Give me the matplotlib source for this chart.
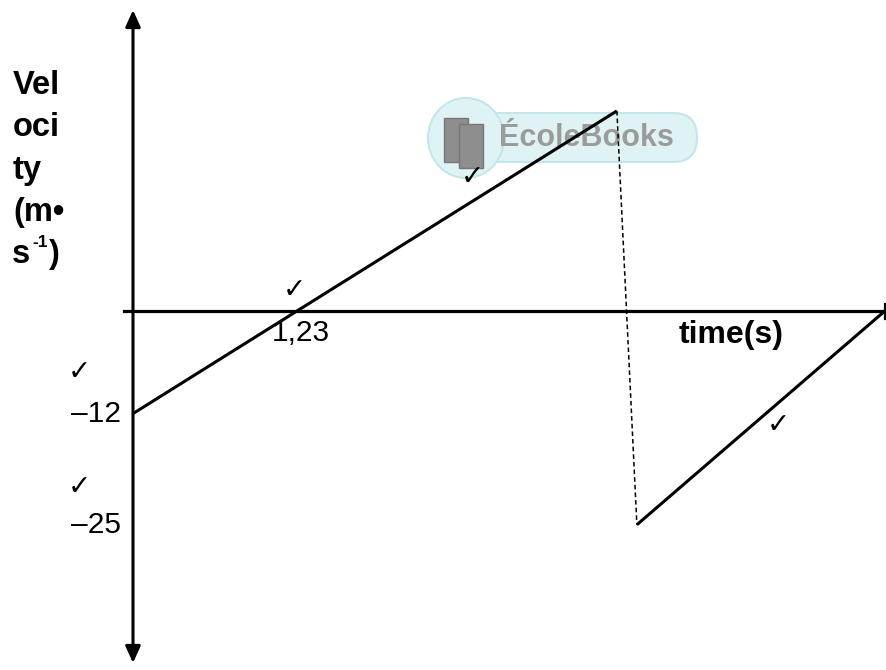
import matplotlib
matplotlib.use('Agg')
import matplotlib.pyplot as plt
from matplotlib.patches import FancyBboxPatch, Ellipse, Rectangle

plt.rcParams['font.family'] = ['Liberation Sans', 'DejaVu Sans']

# sketch data (time in s, velocity in m/s)
t_up = [0, 1.23, 3.63]
v_up = [-12, 0, 23.4]
t_drop = [3.63, 3.78]
v_drop = [23.4, -25]
t_back = [3.78, 5.64]
v_back = [-25, 0]

tick_vals = [-12, -25]
tick_labels = ['\u201312', '\u201325']
ylabel_lines = ['Vel', 'oci', 'ty', '(m\u2022']

# pixel layout helpers (origin at px 133, 311)
SX, SY = 133.3, 8.55
W, H = 887, 670


def px(x, y):
    return (x - 133) / SX, (311 - y) / SY


fig = plt.figure(figsize=(W / 100, H / 100), dpi=100)
ax = fig.add_axes([0, 0, 1, 1])
ax.set_xlim(px(0, 0)[0], px(W, 0)[0])
ax.set_ylim(px(0, H)[1], px(0, 0)[1])
ax.axis('off')

# watermark
cx, cy = px(466, 138)
pill_l, pill_b = px(440, 162)
pill_r, pill_t = px(697, 113)
ax.add_patch(FancyBboxPatch((pill_l, pill_b), pill_r - pill_l, pill_t - pill_b,
                            boxstyle='round,pad=0,rounding_size=0.18',
                            mutation_aspect=SX / SY,
                            fc='#dff3f5', ec='#c4e6ea', lw=1.5, zorder=1))
ax.add_patch(Ellipse((cx, cy), 76 / SX, 80 / SY,
                     fc='#dff3f5', ec='#c4e6ea', lw=1.5, zorder=1))
for bx, by in [(444, 118), (459, 124)]:
    l, b = px(bx, by + 44)
    r, t = px(bx + 24, by)
    ax.add_patch(Rectangle((l, b), r - l, t - b, fc='#8e8e8e', ec='#777777',
                           lw=1, zorder=1.5))
tx, ty_ = px(499, 138)
ax.text(tx, ty_, '\u00c9coleBooks', fontsize=22, fontweight='bold',
        color='#9b9b9b', ha='left', va='center', zorder=1.6)

# axes with arrows
ax.annotate('', xy=px(133, 10), xytext=px(133, 663),
            arrowprops=dict(arrowstyle='<|-|>,head_length=1.0,head_width=0.45',
                            lw=2.2, color='black', shrinkA=0, shrinkB=0), zorder=3)
x0, _ = px(124, 0)
x1, _ = px(885, 0)
ax.plot([x0, x1], [0, 0], color='black', lw=2.3, zorder=3)
ax.plot([x1, x1], [px(0, 304)[1], px(0, 318)[1]], color='black', lw=2.3, zorder=3)

# graph lines
ax.plot(t_up, v_up, color='black', lw=2.2, solid_capstyle='butt', zorder=4)
ax.plot(t_drop, v_drop, color='black', lw=1.1, ls=(0, (3, 2)), zorder=4)
ax.plot(t_back, v_back, color='black', lw=2.2, solid_capstyle='butt', zorder=4)

# value labels
for v, lab in zip(tick_vals, tick_labels):
    ax.text(px(121, 0)[0], v, lab, fontsize=21.5, ha='right', va='center')
ax.text(*px(272, 333), '1,23', fontsize=21.5, ha='left', va='center')
ax.text(*px(679, 335), 'time(s)', fontsize=23, fontweight='bold',
        ha='left', va='center')

for i, line in enumerate(ylabel_lines):
    ax.text(*px(13, 94 + 42.3 * i), line, fontsize=23.5, fontweight='bold',
            ha='left', va='baseline')
base = 94 + 42.3 * 4
ax.text(*px(12, base), 's', fontsize=23.5, fontweight='bold',
        ha='left', va='baseline')
ax.text(*px(32, base - 16), '-1', fontsize=12.5, fontweight='bold',
        ha='left', va='baseline')
ax.text(*px(49, base), ')', fontsize=23.5, fontweight='bold',
        ha='left', va='baseline')

# tick marks
for cxp, cyp in [(294, 290), (79, 372), (79, 487), (472, 177), (778, 425)]:
    ax.text(*px(cxp, cyp), '\u2713', fontsize=20, family='DejaVu Sans',
            fontweight='bold', ha='center', va='center', zorder=5)

fig.savefig('out.png', dpi=100)
